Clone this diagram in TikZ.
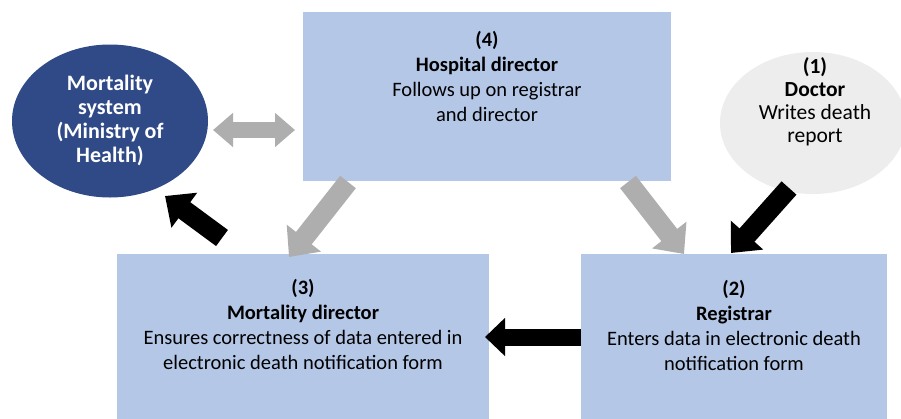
\documentclass[tikz,border=0pt]{standalone}
\usepackage{fontspec}
\setmainfont{Carlito}
\usetikzlibrary{arrows.meta,shapes.geometric}
\definecolor{boxblue}{HTML}{B4C7E7}
\definecolor{navyfill}{HTML}{2F4A86}
\definecolor{docgray}{HTML}{EDEDED}
\definecolor{arrowgray}{HTML}{AEAEAE}
\begin{document}
\begin{tikzpicture}[x=1pt,y=-1pt,
  box/.style={rectangle,fill=boxblue,draw=none,inner sep=0pt},
  oval/.style={ellipse,draw=none,inner sep=0pt},
  txt/.style={align=center,inner sep=0pt,font=\fontsize{20.5}{25}\selectfont},
  grayarrow/.style={draw=arrowgray,line width=20pt,-{Triangle[width=42pt,length=24pt]}},
  blackarrow/.style={draw=black,line width=20pt,-{Triangle[width=42pt,length=24pt]}}]
\useasboundingbox (0,0) rectangle (901,418);
\fill[white] (0,0) rectangle (901,418);
% shapes
\node[box,minimum width=368pt,minimum height=169pt] (b4) at (487,96.5) {};
\node[box,minimum width=372pt,minimum height=166pt] (b3) at (303,337) {};
\node[box,minimum width=306pt,minimum height=166pt] (b2) at (734,337) {};
\node[oval,fill=navyfill,minimum width=196pt,minimum height=153pt] (ms) at (110,121) {};
\node[oval,fill=docgray,minimum width=186pt,minimum height=142pt] (doc) at (813,123) {};
% texts
\node[txt] (t4) at (487,76) {\textbf{(4)}\\\textbf{Hospital director}\\Follows up on registrar\\and director};
\node[txt] (t3) at (303,324.5) {\textbf{(3)}\\\textbf{Mortality director}\\Ensures correctness of data entered in\\electronic death notification form};
\node[txt] (t2) at (734,325) {\textbf{(2)}\\\textbf{Registrar}\\Enters data in electronic death\\notification form};
\node[txt,font=\fontsize{21.5}{23}\selectfont] (t1) at (815,101.5) {\textbf{(1)}\\\textbf{Doctor}\\Writes death\\report};
\node[txt,text=white,font=\bfseries\fontsize{22}{24}\selectfont] (tms) at (110,120) {Mortality\\system\\(Ministry of\\Health)};
% arrow end points
\coordinate (dL) at (213,130);
\coordinate (dR) at (295,130);
\coordinate (k3s) at (222,238);
\coordinate (kmse) at (165,196);
\coordinate (g43s) at (348,182);
\coordinate (g43e) at (289,257);
\coordinate (g42s) at (628,182);
\coordinate (g42e) at (684,254);
\coordinate (kds) at (789,188);
\coordinate (kde) at (731,253);
\coordinate (k23s) at (581,337);
\coordinate (k23e) at (485,337);
% arrows
\draw[draw=arrowgray,line width=16pt,{Triangle[width=33pt,length=20pt]}-{Triangle[width=33pt,length=20pt]}] (dL) -- (dR);
\draw[blackarrow] (k3s) -- (kmse);
\draw[grayarrow] (g43s) -- (g43e);
\draw[grayarrow] (g42s) -- (g42e);
\draw[blackarrow] (kds) -- (kde);
\draw[draw=black,line width=17pt,-{Triangle[width=37pt,length=20pt]}] (k23s) -- (k23e);
\end{tikzpicture}
\end{document}
